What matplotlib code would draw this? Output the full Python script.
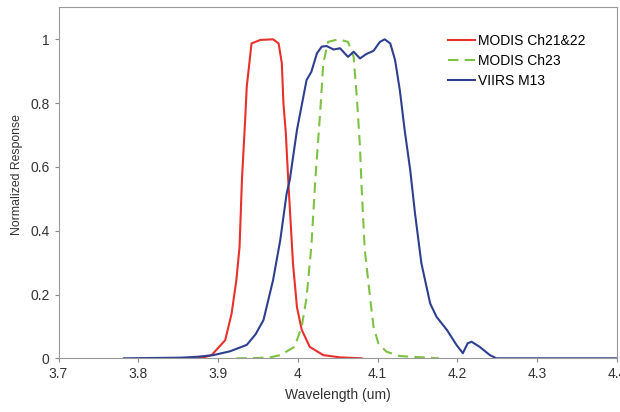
import numpy as np
import matplotlib.pyplot as plt
import matplotlib as mpl

mpl.rcParams["font.family"] = ["Liberation Sans", "DejaVu Sans"]

# MODIS Ch21&22
red_x = [3.872, 3.882, 3.892, 3.909, 3.917, 3.923, 3.927, 3.930, 3.934, 3.936, 3.942, 3.953,
         3.969, 3.976, 3.980, 3.982, 3.985, 3.988, 3.994, 3.999, 4.005, 4.015, 4.032, 4.053, 4.080]
red_y = [0.0, 0.003, 0.01, 0.057, 0.14, 0.245, 0.35, 0.56, 0.747, 0.851, 0.987, 0.998,
         1.0, 0.987, 0.925, 0.8, 0.706, 0.56, 0.297, 0.16, 0.089, 0.036, 0.01, 0.003, 0.0]

# MODIS Ch23
green_x = [3.923, 3.95, 3.965, 3.978, 3.996, 4.005, 4.011, 4.017, 4.022, 4.028, 4.032, 4.038,
           4.051, 4.063, 4.070, 4.074, 4.078, 4.080, 4.084, 4.091, 4.095, 4.101, 4.111, 4.128,
           4.157, 4.177]
green_y = [0.0, 0.001, 0.003, 0.01, 0.036, 0.1, 0.19, 0.35, 0.56, 0.768, 0.925, 0.992,
           1.0, 0.992, 0.945, 0.82, 0.663, 0.538, 0.34, 0.183, 0.099, 0.047, 0.021, 0.007,
           0.003, 0.0]

# VIIRS M13
blue_x = [3.782, 3.853, 3.875, 3.894, 3.915, 3.936, 3.947, 3.957, 3.969, 3.978, 3.986, 3.990,
          3.999, 4.011, 4.017, 4.024, 4.030, 4.036, 4.045, 4.053, 4.057, 4.063, 4.070, 4.078,
          4.086, 4.095, 4.103, 4.109, 4.116, 4.122, 4.128, 4.134, 4.141, 4.147, 4.155, 4.166,
          4.174, 4.187, 4.199, 4.207, 4.213, 4.218, 4.228, 4.241, 4.249, 4.3, 4.4]
blue_y = [0.0, 0.002, 0.005, 0.01, 0.022, 0.042, 0.075, 0.12, 0.245, 0.37, 0.516, 0.56,
          0.716, 0.872, 0.898, 0.956, 0.977, 0.979, 0.968, 0.972, 0.961, 0.945, 0.961, 0.94,
          0.954, 0.964, 0.992, 1.0, 0.987, 0.935, 0.84, 0.716, 0.59, 0.454, 0.298, 0.172,
          0.13, 0.089, 0.042, 0.016, 0.047, 0.052, 0.036, 0.01, 0.0, 0.0, 0.0]

fig = plt.figure(figsize=(6.2, 4.12), dpi=100, facecolor="w")
ax = fig.add_axes([0.0944, 0.1303, 0.9004, 0.8517])

ax.plot(red_x, red_y, color="#e8302c", lw=1.5, label="MODIS Ch21&22")
ax.plot(green_x, green_y, color="#7dc242", lw=1.5, ls=(0, (5, 3)), label="MODIS Ch23")
ax.plot(blue_x, blue_y, color="#2e3f8f", lw=1.5, label="VIIRS M13")

ax.set_xlim(3.7, 4.4)
ax.set_ylim(0, 1.1)
ax.set_xticks(np.round(np.arange(3.7, 4.41, 0.1), 1))
ax.set_xticklabels(["3.7", "3.8", "3.9", "4", "4.1", "4.2", "4.3", "4.4"])
ax.set_yticks([0, 0.2, 0.4, 0.6, 0.8, 1.0])
ax.set_yticklabels(["0", "0.2", "0.4", "0.6", "0.8", "1"])
ax.set_xlabel("Wavelength (um)", fontsize=10, color="#333333", labelpad=5)
ax.set_ylabel("Normalized Response", fontsize=8.8, color="#333333")
ax.yaxis.set_label_coords(-0.064, 0.525)
ax.tick_params(labelsize=10, length=3, width=0.8, color="#888888", labelcolor="#333333")
for s in ax.spines.values():
    s.set_color("#999999")
    s.set_linewidth(0.8)

ax.legend(loc="upper left", bbox_to_anchor=(448 / 620, 1 - 34 / 412),
          bbox_transform=fig.transFigure, frameon=False, fontsize=10,
          borderpad=0, borderaxespad=0, handlelength=1.95, handletextpad=0.2,
          labelspacing=0.42)

fig.savefig("out.png", dpi=100)
